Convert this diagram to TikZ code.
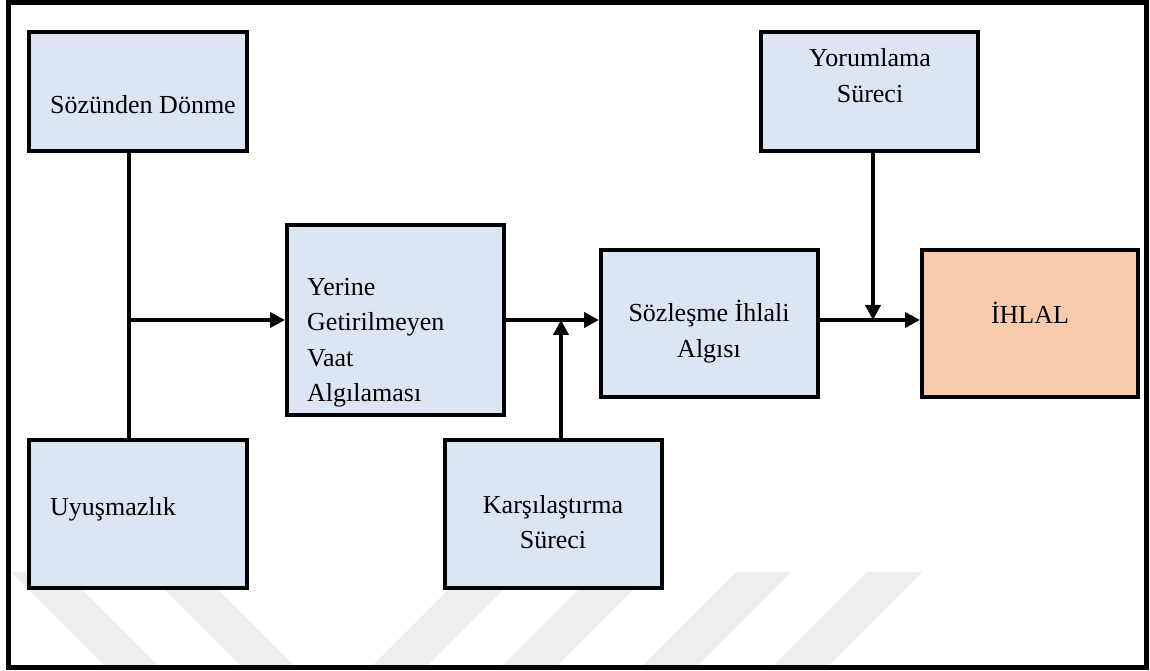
\documentclass[tikz,border=0pt]{standalone}
\usepackage{fontspec}
\setmainfont{Liberation Serif}
\usetikzlibrary{arrows.meta}
\definecolor{kutumavi}{HTML}{DCE6F2}
\definecolor{ihlalturuncu}{HTML}{F8CBAD}
\definecolor{filigran}{HTML}{EEEEEE}

\begin{document}
\begin{tikzpicture}[x=1pt,y=1pt,
		kutu/.style={draw=black,line width=4pt,fill=kutumavi,inner sep=0pt},
		yazi/.style={inner sep=0pt,font=\fontsize{26}{35.3}\selectfont},
		cizgi/.style={line width=4pt},
		ok/.style={line width=4pt,-{Triangle[length=15pt,width=15pt]}}]
		\useasboundingbox (0,0) rectangle (1150,671);
		
		\foreach \b in {11,147}
			\fill[filigran] (\b,99) -- (\b+53,99) -- (\b+146,6) -- (\b+93,6) -- cycle;
		\foreach \b in {373,503,643,774}
			\fill[filigran] (\b,6) -- (\b+55,6) -- (\b+148,99) -- (\b+93,99) -- cycle;
		
		\draw[line width=5pt] (8,668.5) rectangle (1146,3.5);
		
		\node[kutu,minimum width=218pt,minimum height=119pt] (soz) at (138,579.5) {};
		\node[yazi,anchor=west] (soz-y) at (50,565) {\begin{tabular}{@{}l@{}}Sözünden Dönme\end{tabular}};
		
		\node[kutu,minimum width=218pt,minimum height=148pt] (uyu) at (138,157) {};
		\node[yazi,anchor=west] (uyu-y) at (50,163) {\begin{tabular}{@{}l@{}}Uyuşmazlık\end{tabular}};
		
		\node[kutu,minimum width=217pt,minimum height=190pt] (yer) at (395.5,351) {};
		\node[yazi,anchor=west] (yer-y) at (307,329.6) {\begin{tabular}{@{}l@{}}Yerine\\Getirilmeyen\\Vaat\\Algılaması\end{tabular}};
		
		\node[kutu,minimum width=217pt,minimum height=148pt] (kar) at (553.5,157) {};
		\node[yazi] (kar-y) at (553,147) {\begin{tabular}{@{}c@{}}Karşılaştırma\\Süreci\end{tabular}};
		
		\node[kutu,minimum width=217pt,minimum height=147pt] (sil) at (709.5,347.5) {};
		\node[yazi] (sil-y) at (709,338.5) {\begin{tabular}{@{}c@{}}Sözleşme İhlali\\Algısı\end{tabular}};
		
		\node[kutu,minimum width=217pt,minimum height=119pt] (yor) at (869.5,579.5) {};
		\node[yazi] (yor-y) at (870,593.5) {\begin{tabular}{@{}c@{}}Yorumlama\\Süreci\end{tabular}};
		
		\node[kutu,fill=ihlalturuncu,minimum width=216pt,minimum height=147pt] (ihl) at (1030,347.5) {};
		\node[yazi] (ihl-y) at (1030,354.5) {\begin{tabular}{@{}c@{}}İHLAL\end{tabular}};
		
		\coordinate (kol) at (129,351);
		\coordinate (kar-ok) at (561,351);
		\coordinate (yor-ok) at (873,351);
		
		\draw[cizgi] (kol |- soz.south) -- (kol |- uyu.north);
		\draw[ok] (kol) -- (yer.west);
		\draw[ok] (yer.east) -- (sil.west |- yer.east);
		\draw[ok] (kar-ok |- kar.north) -- (kar-ok);
		\draw[ok] (sil.east |- yor-ok) -- (ihl.west |- yor-ok);
		\draw[ok] (yor-ok |- yor.south) -- (yor-ok);
	\end{tikzpicture}
\end{document}
